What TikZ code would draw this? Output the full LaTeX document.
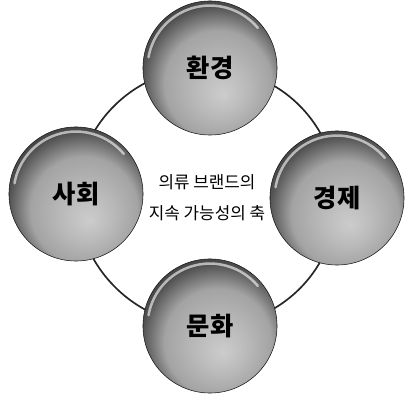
\documentclass[tikz,border=0pt]{standalone}
\usepackage{fontspec}
\newfontfamily\cjk{Noto Sans CJK KR}
\usetikzlibrary{backgrounds}
\pgfdeclareradialshading{orb}{\pgfpoint{5bp}{-10bp}}{color(0bp)=(gray!40); color(10bp)=(gray!55); color(20bp)=(gray!72); color(28bp)=(black!70); color(38bp)=(black!88); color(50bp)=(black)}

\begin{document}
\begin{tikzpicture}[x=0.025cm, y=-0.025cm, line cap=round, line join=round,
    orb/.style={circle, draw=black!90, thin, shading=orb, minimum size=3.35cm, inner sep=0pt,
      font=\cjk\bfseries\fontsize{18}{20}\selectfont,
      path picture={\draw[white, opacity=.6, line width=1.8pt]
        (path picture bounding box.center) ++(170:1.56cm) arc (170:40:1.56cm);}},
    ring/.style={line width=1.2pt, black!85},
    caption/.style={font=\cjk\fontsize{12}{22}\selectfont, align=center}]

  \useasboundingbox (0,0) rectangle (407,398);

  %--------------------------
  % Four axes
  %--------------------------
  \node[orb] (env) at (210,68)  {환경};
  \node[orb] (eco) at (337,198) {경제};
  \node[orb] (cul) at (210,326) {문화};
  \node[orb] (soc) at (76,194)  {사회};

  % Ring behind the balls
  \begin{scope}[on background layer]
    \draw[ring] (env.center) to[bend left=45] (eco.center);
    \draw[ring] (eco.center) to[bend left=45] (cul.center);
    \draw[ring] (cul.center) to[bend left=45] (soc.center);
    \draw[ring] (soc.center) to[bend left=45] (env.center);
  \end{scope}

  % Centre caption
  \node[caption] (title) at (207,198) {의류 브랜드의\\지속 가능성의 축};

\end{tikzpicture}
\end{document}
